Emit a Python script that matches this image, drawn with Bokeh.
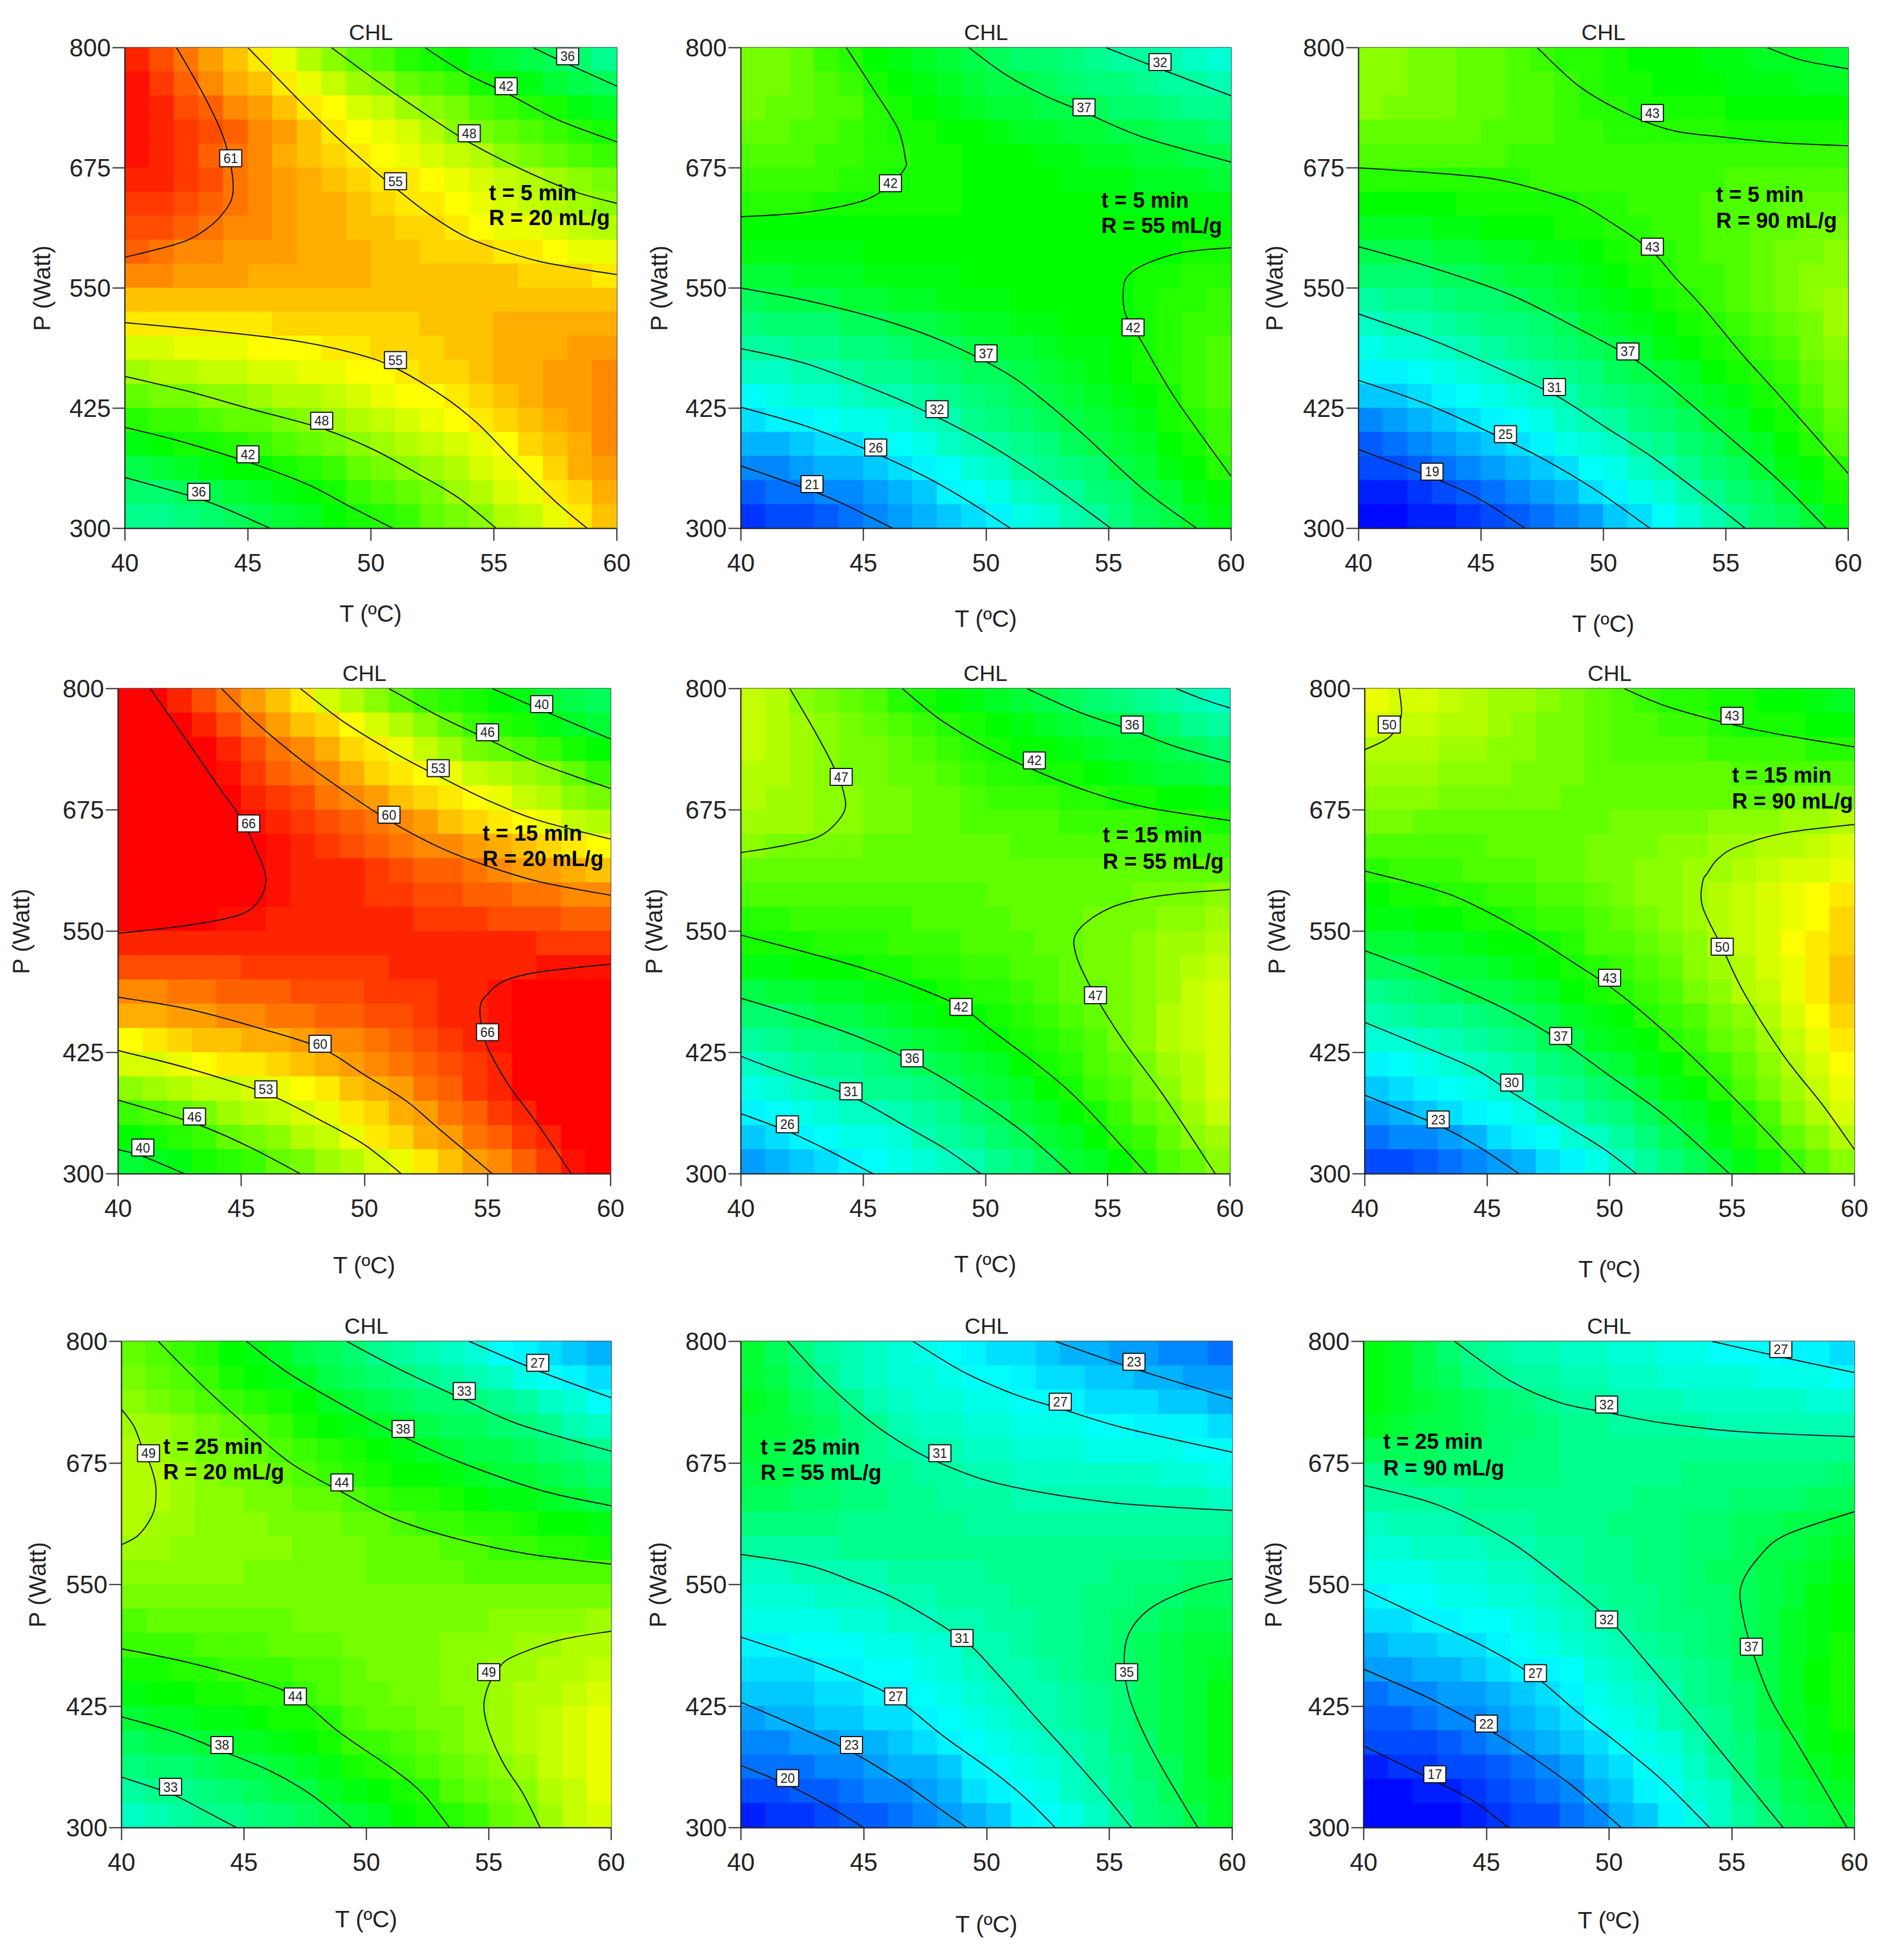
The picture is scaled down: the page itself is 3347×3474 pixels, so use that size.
from bokeh.plotting import figure
from bokeh.models import Range1d, FixedTicker, LinearColorMapper, ColumnDataSource
from bokeh.layouts import column, row
from bokeh.core.properties import value
from bokeh.embed import file_html
from bokeh.resources import INLINE

T_CELLS = [40.5 + i for i in range(20)]
P_CELLS = [787.5 - 25 * i for i in range(20)]
T_TICKS = [40, 45, 50, 55, 60]
P_TICKS = [300, 425, 550, 675, 800]

G1 = [
[65,63,61,59,57,55,53,50,48,46,45,43,42,41,39,38,37,36,35,33],
[66,64,62,60,58,57,55,53,51,49,48,46,45,44,42,41,40,38,37,36],
[66,65,63,62,60,59,57,55,54,52,51,49,48,47,45,44,43,42,40,39],
[66,65,64,63,62,60,59,57,55,54,53,52,50,48,47,46,45,44,43,42],
[66,65,64,62,61,60,58,57,56,55,54,53,52,51,50,48,47,46,45,44],
[65,65,64,63,61,60,59,58,57,56,55,55,54,53,52,51,50,49,48,47],
[64,64,63,62,61,60,59,58,58,57,56,55,55,54,53,52,51,50,49,48],
[63,63,62,61,60,60,59,58,58,57,57,56,56,55,54,53,53,52,51,50],
[62,61,60,60,59,59,59,58,58,58,57,57,56,56,56,55,55,54,53,53],
[60,60,59,59,59,58,58,58,58,58,57,57,57,57,57,57,56,56,56,55],
[57,57,57,57,57,57,57,57,57,57,57,57,57,57,57,57,57,57,57,57],
[55,55,55,55,55,55,56,56,56,56,56,56,57,57,57,58,58,58,58,58],
[52,52,53,53,53,54,54,54,55,55,56,56,56,57,57,58,58,58,59,59],
[49,50,50,51,51,52,52,53,53,54,54,55,56,56,57,58,58,59,59,60],
[46,47,47,48,48,49,50,50,51,52,53,54,54,55,56,57,58,59,59,60],
[43,44,44,45,46,46,47,48,49,50,51,52,53,54,55,56,57,58,59,60],
[40,41,42,42,43,44,45,46,47,48,49,50,51,52,53,54,56,57,58,60],
[37,38,39,40,41,41,42,43,44,46,47,48,49,50,52,53,54,56,58,59],
[35,35,36,37,38,39,40,41,42,44,45,46,47,49,50,52,53,55,56,58],
[33,33,34,35,36,37,38,39,41,42,43,44,46,47,48,50,51,53,55,57]]
G2 = [
[47,47,46,44,43,41,40,39,38,37,36,35,35,34,33,32,32,31,30,29],
[47,47,46,45,44,42,41,40,39,38,37,37,36,35,34,34,33,32,32,31],
[47,46,46,45,45,43,42,41,40,39,38,38,37,37,36,35,35,34,33,33],
[46,46,45,45,44,43,42,42,41,41,40,39,39,38,38,37,37,36,36,35],
[45,45,45,44,44,43,43,42,42,41,41,41,40,40,39,39,38,38,37,37],
[44,44,44,44,43,43,42,42,42,41,41,41,41,40,40,40,39,39,39,38],
[43,43,43,42,42,42,42,42,42,41,41,41,41,41,41,40,40,40,40,40],
[41,41,41,41,41,41,41,41,41,41,41,41,41,41,41,41,41,41,41,41],
[40,40,40,40,40,41,41,41,41,41,41,41,41,41,41,41,41,41,42,42],
[38,38,39,39,39,40,40,40,40,41,41,41,41,41,41,41,42,42,43,43],
[36,37,37,37,38,38,39,39,40,40,40,41,41,41,41,41,42,43,43,44],
[34,35,35,35,36,36,37,37,38,39,39,40,40,41,41,41,42,43,44,44],
[32,32,33,33,34,34,35,36,36,37,38,38,39,40,40,41,42,43,44,45],
[30,30,31,31,32,33,33,34,35,36,36,37,38,39,40,41,42,43,44,45],
[27,28,29,29,30,31,31,32,33,34,35,36,37,38,39,40,41,42,44,45],
[25,26,26,27,28,28,29,30,31,33,34,35,36,37,38,39,40,42,43,44],
[23,23,24,25,25,26,27,28,30,31,32,33,34,36,37,38,39,41,42,44],
[21,21,22,23,23,24,25,26,27,29,30,32,33,34,35,37,38,40,41,43],
[19,20,20,21,21,22,23,24,26,27,28,30,31,32,34,35,37,38,40,41],
[17,18,18,19,20,21,22,23,24,25,26,28,29,31,32,34,36,37,39,40]]
G3 = [
[48,48,47,47,46,46,45,44,43,43,42,41,41,41,40,40,39,39,39,38],
[48,48,47,47,46,46,45,45,44,43,42,42,41,41,41,40,40,40,39,39],
[48,47,47,47,46,46,45,45,44,43,43,42,42,42,42,41,41,41,41,41],
[46,46,46,46,46,45,45,45,44,44,43,43,43,43,43,42,42,42,42,42],
[45,45,45,45,45,45,44,44,44,44,44,44,44,44,44,44,44,44,44,44],
[43,43,43,43,43,43,43,44,44,44,44,44,44,44,44,45,45,45,45,45],
[41,41,41,41,42,42,42,42,42,43,43,44,44,44,45,45,45,46,46,46],
[39,39,39,40,40,41,41,41,42,42,43,43,44,44,45,45,46,46,47,47],
[37,37,37,38,38,39,39,40,40,41,42,43,43,44,45,45,46,47,47,48],
[35,35,35,36,36,37,38,38,39,40,41,42,43,44,44,45,46,47,48,48],
[32,33,33,34,35,35,36,37,38,39,40,41,42,43,44,45,46,47,48,49],
[30,31,31,32,33,34,34,35,36,38,39,40,41,42,43,44,45,46,47,49],
[28,29,29,30,31,32,33,34,35,36,37,38,40,41,42,43,44,45,47,48],
[26,26,27,28,29,30,31,32,33,34,36,37,38,39,41,42,43,44,46,47],
[24,24,25,26,27,28,29,30,31,33,34,35,36,38,39,40,42,43,45,47],
[21,22,23,24,25,26,27,28,30,31,32,34,35,36,38,39,41,42,44,46],
[19,20,21,22,23,24,25,26,28,29,30,32,33,35,36,38,39,41,43,45],
[18,18,19,20,21,22,23,24,25,27,28,30,31,33,35,36,38,40,41,43],
[16,16,17,18,19,20,21,22,23,25,26,28,29,31,33,35,36,38,40,42],
[15,15,16,16,17,18,19,20,21,22,24,25,27,29,31,33,35,36,38,40]]
G4 = [
[70,67,65,63,61,59,57,55,52,50,48,46,44,43,42,41,40,38,37,36],
[70,70,67,65,63,61,59,57,56,54,52,50,48,46,44,43,42,40,39,38],
[70,70,70,67,65,63,61,60,58,56,55,53,51,49,47,46,45,44,42,41],
[70,70,70,67,66,64,62,61,60,58,56,55,54,53,51,50,49,48,46,44],
[70,70,70,69,67,65,64,63,61,60,59,57,56,55,54,53,51,50,48,47],
[70,70,70,69,67,66,65,64,63,62,61,60,59,57,56,55,54,53,51,50],
[70,70,70,69,68,67,66,65,64,63,62,61,60,60,59,58,57,56,55,54],
[70,70,70,69,68,67,66,65,65,65,64,63,62,62,61,60,59,59,58,57],
[70,70,70,70,68,67,66,65,65,65,64,64,63,63,62,62,61,61,60,60],
[68,67,67,67,66,66,65,65,65,65,65,65,64,64,64,63,63,63,62,62],
[65,65,65,65,65,65,65,65,65,65,65,65,65,65,65,65,65,64,64,64],
[63,63,63,63,63,64,64,64,64,64,64,65,65,65,65,65,65,66,66,66],
[60,60,61,61,62,62,62,63,63,63,64,64,64,65,65,66,67,67,67,67],
[58,58,59,59,60,60,61,61,62,62,63,63,64,65,65,66,67,68,68,68],
[54,55,56,57,57,58,58,59,60,60,61,62,63,64,65,66,67,68,69,69],
[52,52,53,54,55,55,56,57,58,59,60,61,62,63,64,65,67,68,69,70],
[48,49,50,51,51,52,53,54,55,57,58,59,61,62,64,65,67,68,69,70],
[44,45,46,47,49,50,51,52,53,55,56,58,59,61,62,64,65,67,69,70],
[41,42,43,44,46,47,48,50,51,53,55,56,58,59,61,62,64,65,67,69],
[38,39,40,42,43,44,46,47,49,50,52,53,55,57,59,60,62,64,66,68]]
G5 = [
[51,50,48,47,46,45,43,42,41,40,39,38,37,36,35,34,33,32,31,30],
[51,50,49,48,47,46,45,44,43,42,41,40,39,38,37,37,36,35,33,32],
[51,50,49,48,47,47,46,45,44,43,42,41,41,40,39,38,38,37,36,35],
[50,50,49,48,47,47,46,46,45,44,43,43,42,42,41,40,39,38,38,37],
[50,49,49,48,48,47,47,46,46,45,44,44,44,43,43,42,42,41,41,40],
[49,49,49,48,48,47,47,46,46,45,45,45,45,44,44,44,44,43,43,42],
[48,47,47,47,47,46,46,46,46,46,46,45,45,45,45,45,45,45,44,44],
[46,46,46,46,46,46,46,46,46,46,46,46,46,46,46,46,46,46,46,46],
[45,45,45,45,45,45,45,45,45,45,46,46,46,46,46,46,47,47,47,48],
[43,43,44,44,44,44,44,45,45,45,45,46,46,46,47,47,47,48,48,49],
[42,42,42,43,43,43,44,44,44,45,45,45,46,46,47,47,48,49,49,50],
[40,40,41,41,41,42,42,43,43,44,44,45,45,46,47,47,48,49,50,51],
[37,38,38,39,39,40,40,41,42,43,43,44,45,46,46,47,48,49,51,52],
[35,35,36,37,37,38,39,40,41,41,42,43,44,45,46,47,48,50,51,52],
[32,33,34,34,35,36,37,38,39,40,41,42,43,44,45,47,48,50,51,52],
[30,31,32,33,33,34,35,36,37,38,39,41,42,43,45,46,47,49,50,52],
[28,29,30,31,32,33,33,34,35,37,38,39,41,42,44,45,47,48,50,52],
[26,27,28,29,30,30,31,32,33,35,36,38,39,41,42,44,46,47,49,51],
[24,25,26,27,28,28,29,31,32,33,35,36,38,39,41,43,44,46,48,49],
[22,23,24,25,26,27,28,29,30,31,33,34,36,38,39,41,43,45,46,48]]
G6 = [
[53,52,52,51,50,49,49,48,47,46,45,44,43,43,42,42,41,41,40,39],
[52,51,51,50,50,49,48,47,47,46,45,45,44,44,43,42,42,42,41,41],
[50,50,50,49,49,48,48,47,47,46,45,45,45,45,44,44,44,44,43,43],
[49,49,49,48,48,48,47,47,47,46,46,46,46,46,46,45,45,45,45,45],
[48,48,48,47,47,47,47,47,46,46,46,46,46,46,46,46,46,47,47,47],
[47,47,46,46,46,46,46,46,46,46,47,47,47,47,48,48,48,49,49,50],
[45,45,45,45,45,46,46,46,46,47,47,47,48,48,49,49,50,50,51,52],
[43,44,44,44,45,45,45,46,46,47,47,48,48,49,49,50,51,52,52,53],
[41,42,42,43,43,44,44,45,45,46,47,48,48,49,50,51,52,53,54,55],
[40,40,41,41,42,42,43,44,44,45,46,47,48,49,50,51,52,53,54,56],
[38,38,39,39,40,41,41,42,43,45,45,46,47,48,50,51,52,54,55,56],
[36,36,37,38,38,39,40,41,42,43,44,45,46,48,49,50,52,53,55,57],
[33,34,35,36,37,37,38,39,41,42,43,44,45,47,48,50,51,53,55,57],
[31,32,33,33,34,35,36,37,39,40,41,43,44,45,47,48,50,52,54,56],
[29,29,30,31,32,33,34,36,37,39,40,41,43,44,46,47,49,51,53,55],
[26,27,28,29,30,31,32,34,35,37,38,40,41,43,44,46,48,50,52,54],
[24,25,26,27,28,29,30,32,33,35,36,38,40,41,43,45,47,49,51,53],
[22,23,24,25,26,27,28,30,31,33,34,36,38,39,41,43,45,48,50,52],
[20,21,21,22,23,25,26,27,29,30,32,34,36,38,40,42,44,46,48,50],
[18,18,19,20,21,22,23,25,26,28,30,32,34,36,38,40,42,44,46,48]]
G7 = [
[46,45,44,43,41,40,39,37,36,35,33,32,31,30,29,27,26,25,24,23],
[47,46,45,44,42,41,40,39,37,36,35,34,33,32,31,30,28,27,26,25],
[48,47,46,45,44,43,42,41,39,38,37,36,35,35,34,33,32,30,29,27],
[49,49,48,47,46,45,44,42,41,40,39,38,37,36,36,35,34,33,31,30],
[50,49,48,47,47,46,45,44,43,42,41,40,39,38,37,37,36,35,34,33],
[50,50,49,48,47,47,46,45,44,43,42,41,41,40,39,38,38,37,36,35],
[50,50,49,48,48,47,47,46,46,45,44,43,43,42,41,40,40,39,38,37],
[50,49,49,48,48,48,47,47,47,46,46,45,44,44,43,43,42,41,41,40],
[49,49,48,48,48,48,48,47,47,47,46,46,46,45,45,44,44,43,43,42],
[48,48,48,48,48,47,47,47,47,47,46,46,46,46,45,45,45,45,45,45],
[47,47,47,47,47,47,47,47,47,47,47,47,47,47,47,47,47,47,47,47],
[45,46,46,46,46,46,46,47,47,47,47,47,47,47,47,48,48,48,48,49],
[44,44,44,45,45,45,46,46,46,47,47,47,47,48,48,48,49,49,50,50],
[42,42,43,43,44,44,44,45,45,46,47,47,47,48,48,49,49,50,50,51],
[40,41,41,42,42,43,43,44,45,46,46,47,47,48,48,49,50,50,51,52],
[38,39,39,40,40,41,42,42,43,45,46,46,47,47,48,49,50,51,52,53],
[36,37,37,38,39,39,40,41,42,44,44,45,46,47,48,49,50,51,52,53],
[34,35,35,36,37,37,38,39,40,42,43,44,45,46,47,48,49,51,52,53],
[32,33,33,34,35,36,37,37,39,40,41,42,43,45,46,47,48,50,51,53],
[30,31,32,33,33,34,35,36,37,38,39,41,42,43,44,46,47,49,51,52]]
G8 = [
[38,36,34,32,31,30,29,28,27,26,25,25,24,23,23,22,22,21,21,20],
[38,37,35,33,31,30,29,29,28,27,27,26,25,25,24,24,23,23,22,22],
[39,38,36,35,33,31,30,29,29,28,28,27,27,26,25,25,25,24,24,23],
[38,38,37,36,34,33,31,30,30,29,29,28,28,28,27,27,26,26,26,25],
[38,37,36,35,34,33,32,31,31,30,30,29,29,29,28,28,28,28,27,27],
[37,37,36,35,34,33,33,32,32,31,31,30,30,30,30,30,30,29,29,28],
[36,36,35,35,34,34,33,33,32,32,32,31,31,31,31,31,31,31,31,30],
[34,34,34,34,33,33,33,33,33,32,32,32,32,32,32,32,32,32,32,32],
[32,32,32,32,33,33,33,33,33,33,33,33,33,33,33,33,33,33,33,33],
[30,30,31,31,31,31,32,32,32,32,33,33,33,33,33,34,34,34,35,35],
[29,29,29,30,30,30,31,31,32,32,32,33,33,33,34,34,35,35,36,36],
[28,28,28,28,29,29,30,30,31,31,32,32,33,33,34,35,35,36,37,37],
[26,26,27,27,27,28,28,29,29,31,31,32,33,33,34,35,36,37,38,38],
[25,25,25,26,26,27,27,28,29,30,31,31,32,33,34,35,36,37,38,39],
[24,24,24,25,25,26,26,27,28,29,30,31,31,32,33,34,36,37,38,40],
[22,23,23,24,24,25,25,26,27,28,29,30,31,32,33,34,36,37,38,40],
[21,21,22,22,23,23,24,25,26,27,28,29,30,31,32,34,35,37,38,40],
[20,20,20,21,21,22,23,23,24,26,27,28,29,30,32,33,35,36,38,40],
[18,18,19,19,20,21,21,22,23,25,26,27,28,30,31,33,34,36,38,39],
[16,17,17,18,19,19,20,21,22,23,24,26,27,28,30,32,34,35,37,39]]
G9 = [
[40,39,37,35,33,32,31,31,30,30,29,29,28,28,27,27,27,26,26,25],
[40,39,37,36,34,33,32,32,31,31,30,30,29,29,29,29,28,28,28,27],
[40,39,38,37,36,35,34,33,32,32,31,31,31,30,30,30,30,30,29,29],
[39,38,37,37,36,35,35,34,33,33,32,32,32,32,31,31,31,31,31,31],
[36,36,36,35,35,35,34,34,33,33,33,33,33,33,33,33,33,33,33,33],
[33,33,34,34,34,34,34,34,33,33,33,33,33,34,34,34,34,34,34,35],
[32,32,32,32,33,33,33,33,33,33,33,34,34,34,34,35,35,35,36,36],
[30,31,31,31,32,32,32,33,33,33,34,34,34,35,35,36,36,37,37,38],
[29,29,30,30,30,31,31,32,32,33,33,34,34,35,35,36,37,37,38,39],
[28,28,28,29,29,30,30,31,32,33,33,34,34,35,36,36,37,38,39,40],
[26,27,27,28,28,29,29,30,31,32,33,33,34,35,35,36,37,38,40,41],
[25,25,26,26,27,27,28,29,30,31,32,33,34,34,35,36,37,39,40,41],
[23,24,24,25,25,26,27,28,29,30,31,32,33,34,35,36,37,39,40,42],
[22,22,23,23,24,25,26,26,27,29,30,31,32,33,34,36,37,39,41,42],
[20,21,21,22,22,23,24,25,26,28,29,30,31,33,34,35,37,39,41,42],
[19,19,20,21,21,22,23,24,25,27,28,29,31,32,33,35,37,39,40,42],
[18,18,18,19,20,21,22,23,24,25,27,28,29,31,33,34,36,38,40,41],
[16,17,17,18,18,19,20,21,22,24,25,27,28,30,32,34,36,38,39,40],
[15,15,16,16,17,18,19,20,21,23,24,26,27,29,30,33,35,37,38,39],
[15,15,15,15,16,17,18,18,20,21,23,24,26,28,30,32,34,36,37,38]]

C1 = [
([42.1,43.3,44.1,44.4,43.9,43.0,42.0,40],[800,746,699,651,625,606,595,582]),
([45,46.9,48.4,50.1,50.9,52.3,53.8,55.1,56.8,58.5,60],[800,750,712,673,656,628,604,591,578,570,564]),
([48.4,50.1,51.8,53.9,56,58.2,60],[800,768,738,703,675,651,638]),
([52.2,53.8,55.5,57.6,60],[800,774,753,725,702]),
([56.6,58,60],[800,783,760]),
([40,43.3,46.7,49.2,50.9,52.9,54.3,55.8,57.5,58.8],[514,506,496,483,468,438,410,371,328,300]),
([40,42.5,45,48,50.1,52.1,53.6,55.1],[458,443,425,404,382,354,331,300]),
([40,42.2,45,47.4,49.2,50.9],[405,391,369,346,322,300]),
([40,43,44.5,45.9],[353,331,316,300])]
C2 = [
([44.3,45.4,46.4,46.7,46.7,46.1,45,42.7,40],[800,757,716,686,675,658,641,629,624]),
([49.3,50.8,52.4,54,56.4,60],[800,772,750,733,707,681]),
([54.9,57.1,60],[800,778,750]),
([60,58,56.6,55.8,55.6,55.7,56.4,57.7,60],[592,587,576,563,548,522,492,436,354]),
([40,42.7,45.9,48.3,50.8,52.4,54,56.4,58.6],[550,537,516,494,462,432,397,341,300]),
([40,42.7,45.9,47.9,50,52.4,55.1],[487,471,440,417,389,350,300]),
([40,42.7,45.5,47.5,49.1,51],[426,406,378,354,331,300]),
([40,42.9,44.3,46.2],[365,339,324,300])]
C3 = [
([47.3,49,50.9,52.8,54.9,57.3,60],[800,760,732,714,707,701,698]),
([56.7,58.1,60],[800,787,778]),
([40,42.9,45.4,47.4,49,50.2,51.9,53,54.1,55.7,57.3,60],[675,670,664,652,638,620,590,559,529,480,435,357]),
([40,42.9,46.1,48.5,51,52.5,54.9,57.2,59.1],[593,572,544,514,480,452,400,349,300]),
([40,42.9,45.3,48,50.1,52,54.1,55.8],[523,497,471,439,405,374,334,300]),
([40,42.9,46,47.7,49.8,51.9],[454,428,392,370,338,300]),
([40,43,44.9,46.8],[382,353,331,300])]
C4 = [
([41.3,42.8,44.1,45,45.6,46,45.4,44,41.9,40],[800,746,698,666,634,601,573,561,553,548]),
([44.2,45.6,47.5,49.2,51,53,54.9,57.1,60],[800,765,725,694,664,637,618,601,587]),
([47.4,49.2,51.2,53,55,57.1,60],[800,765,734,710,685,664,645]),
([51,53,55,57.1,60],[800,772,748,723,697]),
([55.2,57.2,60],[800,778,748]),
([60,57.1,55.7,55,54.7,54.8,55.1,55.9,57.1,58.4],[516,508,499,485,472,447,425,390,349,300]),
([40,42.8,45.6,48.2,50,51.7,53,55.2],[482,470,451,430,402,375,347,300]),
([40,42.8,46,48.3,50,51.5],[427,409,383,354,330,300]),
([40,43.1,45.3,47.4],[376,352,328,300]),
([40,41,42.7],[325,318,300])]
C5 = [
([42,43,43.8,44.2,44.2,43.3,41.9,40],[800,757,719,693,672,649,639,631]),
([46.6,48.1,50,51.9,54.1,56.5,60],[800,769,740,717,695,678,664]),
([51.7,53.8,56,57.8,60],[800,776,757,740,724]),
([57.8,58.9,60],[800,789,780]),
([60,57.3,55.2,53.8,53.7,54.5,55.7,57.3,59.4],[593,587,575,551,526,483,435,380,300]),
([40,42.7,45.1,47.2,49,50.3,52.4,54,56.6],[546,528,511,492,472,447,407,371,300]),
([40,42.7,45,47,49.2,51.6,53.5],[481,460,439,416,384,342,300]),
([40,41.9,44.5,46.8,48.4,49.8],[421,403,380,348,325,300]),
([40,41.9,43.5,45.4],[362,344,325,300])]
C6 = [
([41.4,41.5,41.3,40.9,40],[800,775,760,748,737]),
([50.6,52.3,55,57.1,60],[800,782,763,752,740]),
([60,57.1,55.2,54.4,54,53.8,53.8,54.6,55.5,57.1,58.7,60],[660,651,637,624,610,601,575,533,486,422,371,325]),
([40,42.6,44.2,46.6,48.5,50,51.5,53.1,55,56.8,58],[612,595,580,548,518,493,463,427,380,333,300]),
([40,42.6,45.8,48,50,52.3,54.9],[530,505,469,437,401,359,300]),
([40,42.6,44.5,46,48.2,49.8,51.1],[456,429,408,384,350,325,300]),
([40,43,44.7,46.3],[381,350,327,300])]
C7 = [
([40,40.5,40.8,41.2,41.4,41.3,40.7,40],[730,713,694,671,650,624,601,591]),
([41.5,43.2,45.2,46.9,49,51.1,53.7,56.7,60],[800,757,711,675,645,618,597,581,571]),
([45.1,46.9,49.5,51.5,53.7,57.1,60],[800,766,728,702,677,647,631]),
([49.2,51.3,54,56.2,60],[800,772,740,715,687]),
([54.2,57,60],[800,770,742]),
([60,57.9,56,55.4,55,54.8,55,55.6,56.4,57.1],[502,493,476,464,447,426,400,366,335,300]),
([40,42.7,45.2,47.1,48.9,51.1,52.3,53.4],[484,470,453,435,398,360,335,300]),
([40,42.2,44.1,46.1,47.8,49.4],[414,398,379,358,333,300]),
([40,42,43.2,44.7],[352,335,320,300])]
C8 = [
([41.9,43.5,45.3,46.9,48.1,50,52.4,55.6,60],[800,757,717,690,675,657,644,633,626]),
([47,49.1,51.2,53,55.6,60],[800,768,745,731,711,686]),
([52.8,56,60],[800,772,741]),
([60,58.5,56.7,55.8,55.6,55.8,56.4,57.2,58.6],[556,547,526,500,469,435,397,359,300]),
([40,42.7,44.6,46.4,49,50.3,51.9,53.2,54.8,55.9],[581,570,553,534,494,462,416,380,334,300]),
([40,42.7,44.6,46.3,48.3,50.3,51.6,52.8],[496,473,454,433,393,357,330,300]),
([40,42.2,44.5,46.6,48,49.2],[429,405,378,346,321,300]),
([40,41.9,43.5,45],[364,344,323,300])]
C9 = [
([54.2,57,60],[800,784,768]),
([43.7,46,48,49.9,52.2,55.4,60],[800,759,737,727,716,707,702]),
([60,57.2,56.1,55.4,55.4,55.8,56.6,57.9,59.7],[625,601,578,550,525,485,432,377,300]),
([40,43,45.9,48.2,50,51.4,53,54.6,57.1],[652,632,595,552,514,474,426,377,300]),
([40,42.6,45,47,48.7,50.3,52.2,54.1],[545,514,485,455,419,388,348,300]),
([40,42.6,45,46.6,48.5,50.5],[463,434,402,377,343,300]),
([40,42.9,44.5,45.9],[384,348,327,300])]

L1 = (["36","42","48","55","61","55","48","42","36"],[58,55.5,54,51,44.3,51,48,45,43],[791,760,711,661,685,475,412,377,338])
L2 = (["32","37","42","42","37","32","26","21"],[57.1,54,46.1,56,50,48,45.5,42.9],[785,738,659,509,482,424,384,346])
L3 = (["43","43","37","31","25","19"],[52,52,51,48,46,43],[732,593,484,447,398,359])
L4 = (["40","46","53","60","66","66","60","53","46","40"],[57.2,55,53,51,45.3,55,48.2,46,43.1,41],[784,755,718,670,661,446,434,387,359,327])
L5 = (["47","42","36","47","42","36","31","26"],[44.1,52,56,54.5,49,47,44.5,41.9],[709,726,763,484,472,419,385,351])
L6 = (["50","43","50","43","37","30","23"],[41,55,54.6,50,48,46,43],[763,772,534,502,442,394,356])
L7 = (["27","33","38","44","49","49","44","38","33"],[57,54,51.5,49,41.1,55,47.1,44.1,42],[778,749,710,655,685,460,435,385,342])
L8 = (["23","27","31","31","35","27","23","20"],[56,53,48.1,49,55.7,46.3,44.5,41.9],[779,738,685,495,460,435,385,351])
L9 = (["27","32","32","37","27","22","17"],[57,49.9,49.9,55.8,47,45,42.9],[792,735,514,486,459,407,355])

# notes: first line, second line, x, y of line 1, y of line 2
N1 = ("t = 5 min","R = 20 mL/g",54.8,649,623)
N2 = ("t = 5 min","R = 55 mL/g",54.7,641,615)
N3 = ("t = 5 min","R = 90 mL/g",54.6,647,620)
N4 = ("t = 15 min","R = 20 mL/g",54.8,651,625)
N5 = ("t = 15 min","R = 55 mL/g",54.8,649,622)
N6 = ("t = 15 min","R = 90 mL/g",55,711,684)
N7 = ("t = 25 min","R = 20 mL/g",41.7,692,666)
N8 = ("t = 25 min","R = 55 mL/g",40.8,691,665)
N9 = ("t = 25 min","R = 90 mL/g",40.8,697,670)

FONT = "Liberation Sans"
INK = "#222222"

STOP_VALUES = [14.5, 26.5, 41, 54, 67]
STOP_COLORS = [(0,0,255),(0,255,255),(0,255,0),(255,255,0),(255,0,0)]
PALETTE = []
for n in range(256):
    v = STOP_VALUES[0] + (STOP_VALUES[-1] - STOP_VALUES[0]) * n / 255
    s = 0
    while s < 3 and v > STOP_VALUES[s+1]:
        s += 1
    f = (v - STOP_VALUES[s]) / (STOP_VALUES[s+1] - STOP_VALUES[s])
    PALETTE.append("#%02x%02x%02x" % tuple(
        int(round(STOP_COLORS[s][k] + (STOP_COLORS[s+1][k] - STOP_COLORS[s][k]) * f)) for k in range(3)))
MAPPER = LinearColorMapper(palette=PALETTE, low=STOP_VALUES[0], high=STOP_VALUES[-1])

COL_X = [0, 1130, 2230, 3339]
ROW_Y = [0, 1150, 2300, 3466]
# frame: left, right, top, bottom in page pixels; x-label standoff, y-label standoff
FRAMES = [
 [(221,1093,83,939,48,22),(1313,2182,84,940,57,20),(2408,3276,82,936,66,24)],
 [(209,1082,1216,2084,59,47),(1313,2180,1218,2082,57,29),(2419,3287,1220,2080,66,31)],
 [(215,1083,2377,3241,59,24),(1313,2184,2372,3244,68,22),(2417,3287,2375,3239,61,35)],
]
GRIDS = [[G1,G2,G3],[G4,G5,G6],[G7,G8,G9]]
CONTS = [[C1,C2,C3],[C4,C5,C6],[C7,C8,C9]]
LABELS = [[L1,L2,L3],[L4,L5,L6],[L7,L8,L9]]
NOTES = [[N1,N2,N3],[N4,N5,N6],[N7,N8,N9]]

def curves(cs):
    """Bezier pieces that pass through the read contour points."""
    x0, y0, x1, y1, cx0, cy0, cx1, cy1 = [], [], [], [], [], [], [], []
    for xs, ys in cs:
        n = len(xs)
        for i in range(n - 1):
            a, b = max(i - 1, 0), min(i + 2, n - 1)
            x0.append(xs[i]); y0.append(ys[i]); x1.append(xs[i+1]); y1.append(ys[i+1])
            cx0.append(xs[i] + (xs[i+1] - xs[a]) / 6); cy0.append(ys[i] + (ys[i+1] - ys[a]) / 6)
            cx1.append(xs[i+1] - (xs[b] - xs[i]) / 6); cy1.append(ys[i+1] - (ys[b] - ys[i]) / 6)
    return dict(x0=x0, y0=y0, x1=x1, y1=y1, cx0=cx0, cy0=cy0, cx1=cx1, cy1=cy1)

def panel(r, c):
    l, rgt, t, b, xs, ys = FRAMES[r][c]
    w = COL_X[c+1] - COL_X[c]
    h = ROW_Y[r+1] - ROW_Y[r]
    p = figure(width=w, height=h, output_backend="svg", toolbar_location=None,
               x_range=Range1d(40, 60), y_range=Range1d(300, 800),
               title="CHL", title_location="above",
               min_border_left=l-COL_X[c], min_border_right=COL_X[c+1]-rgt,
               min_border_top=t-ROW_Y[r], min_border_bottom=ROW_Y[r+1]-b,
               x_axis_label="T (\u00baC)", y_axis_label="P (Watt)")
    p.title.align = "center"
    p.title.text_font = FONT
    p.title.text_font_size = "39px"
    p.title.text_font_style = "normal"
    p.title.text_color = INK
    p.title.standoff = 12
    p.grid.visible = False
    p.outline_line_color = INK
    p.outline_line_width = 2
    p.xaxis.ticker = FixedTicker(ticks=T_TICKS)
    p.yaxis.ticker = FixedTicker(ticks=P_TICKS)
    for ax, so, lso in ((p.xaxis, xs, 23), (p.yaxis, ys, 3)):
        ax.major_tick_in = 0
        ax.major_tick_out = 22
        ax.minor_tick_line_color = None
        ax.major_tick_line_width = 2
        ax.major_tick_line_color = INK
        ax.axis_line_width = 2
        ax.axis_line_color = INK
        ax.major_label_text_font = FONT
        ax.major_label_text_font_size = "44px"
        ax.major_label_text_color = INK
        ax.major_label_standoff = lso
        ax.axis_label_text_font = FONT
        ax.axis_label_text_font_size = "42px"
        ax.axis_label_text_font_style = "normal"
        ax.axis_label_text_color = INK
        ax.axis_label_standoff = so
    grid = GRIDS[r][c]
    xx, yy, vv = [], [], []
    for i, pv in enumerate(P_CELLS):
        for j, tv in enumerate(T_CELLS):
            xx.append(tv); yy.append(pv); vv.append(grid[i][j])
    src = ColumnDataSource(dict(x=xx, y=yy, v=vv))
    p.rect("x", "y", width=1, height=25, source=src,
           fill_color={"field": "v", "transform": MAPPER},
           line_color={"field": "v", "transform": MAPPER}, line_width=1)
    p.bezier("x0", "y0", "x1", "y1", "cx0", "cy0", "cx1", "cy1",
             source=ColumnDataSource(curves(CONTS[r][c])), line_color="#111111", line_width=2)
    names, lx, ly = LABELS[r][c]
    p.rect(lx, ly, width=39, height=30, width_units="screen", height_units="screen",
           fill_color="white", line_color="#111111", line_width=2)
    p.text(lx, ly, text=names, text_font=value(FONT), text_font_size="23px",
           text_align="center", text_baseline="middle", text_color=INK)
    n1, n2, nx, y1, y2 = NOTES[r][c]
    p.text([nx, nx], [y1, y2], text=[n1, n2], text_font=value(FONT), text_font_size="38px",
           text_font_style="bold", text_align="left", text_baseline="middle", text_color="black")
    return p

layout = column(*[row(*[panel(r, c) for c in range(3)]) for r in range(3)])
open("out.html", "w").write(file_html(layout, INLINE))
